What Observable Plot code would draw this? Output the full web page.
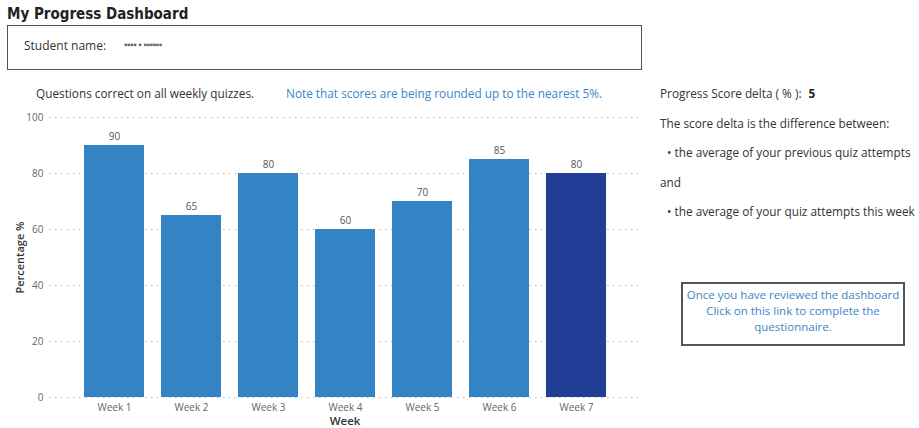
<!DOCTYPE html>
<html>
<head>
<meta charset="utf-8">
<script src="https://cdn.jsdelivr.net/npm/d3@7"></script>
<script src="https://cdn.jsdelivr.net/npm/@observablehq/plot@0.6"></script>
<style>
  html, body { margin: 0; padding: 0; background: #fff; }
  body { width: 919px; height: 428px; position: relative; overflow: hidden; font-family: "Open Sans", "Noto Sans", sans-serif; color: #333; }
  .abs { position: absolute; white-space: nowrap; }
  #title { left: 7px; top: 5px; font-family: "DejaVu Sans Condensed", "Roboto", sans-serif; font-weight: bold; font-size: 15px; line-height: 18px; color: #222; }
  #namebox { left: 7px; top: 25px; width: 633px; height: 43px; border: 1px solid #555; }
  #namelabel { left: 24px; top: 37px; font-size: 12px; color: #333; }
  #nameval { left: 124px; top: 37px; font-size: 10px; color: #667; letter-spacing: -0.5px; }
  #sub1 { left: 36px; top: 85px; font-size: 11.8px; color: #333; }
  #sub2 { left: 286px; top: 85px; font-size: 11.8px; color: #3A86C8; }
  #chart { left: 0; top: 105px; }
  #delta { left: 660px; top: 85px; }
  #delta b { color: #222; margin-left: 4px; }
  .rt { font-size: 11.8px; color: #333; }
  #linkbox { left: 681px; top: 282px; width: 220px; height: 57px; border: 2px solid #555; text-align: center; font-size: 11.5px; color: #3A86C8; line-height: 16px; padding-top: 3px; box-sizing: content-box; }
  #chart svg g[aria-label="y-axis label"] text, #chart svg g[aria-label="x-axis label"] text { font-weight: 600; font-size: 11px; fill: #333; }
  #chart svg g[aria-label="x-axis label"] text { font-size: 11.5px; }
</style>
</head>
<body>
<div id="title" class="abs">My Progress Dashboard</div>
<div id="namebox" class="abs"></div>
<div id="namelabel" class="abs">Student name:</div>
<div id="nameval" class="abs">▪▪▪▪ ▪ ▪▪▪▪▪▪</div>
<div id="sub1" class="abs">Questions correct on all weekly quizzes.</div>
<div id="sub2" class="abs">Note that scores are being rounded up to the nearest 5%.</div>
<div id="chart" class="abs"></div>
<div id="delta" class="abs rt">Progress Score delta ( % ): <b>5</b></div>
<div class="abs rt" style="left:660px; top:115px;">The score delta is the difference between:</div>
<div class="abs rt" style="left:667px; top:144px;">• the average of your previous quiz attempts</div>
<div class="abs rt" style="left:660px; top:174px;">and</div>
<div class="abs rt" style="left:667px; top:203px;">• the average of your quiz attempts this week</div>
<div id="linkbox" class="abs">Once you have reviewed the dashboard<br>Click on this link to complete the<br>questionnaire.</div>
<script>
const weeks = ["Week 1", "Week 2", "Week 3", "Week 4", "Week 5", "Week 6", "Week 7"];
const scores = [90, 65, 80, 60, 70, 85, 80];
const currentWeek = "Week 7";
const yTicks = [0, 20, 40, 60, 80, 100];

const data = weeks.map((w, i) => ({week: w, value: scores[i], status: w === currentWeek ? "current" : "previous"}));

const chart = Plot.plot({
  width: 650,
  height: 323,
  marginLeft: 49,
  marginRight: 10,
  marginTop: 12,
  marginBottom: 31,
  style: {fontFamily: "'Open Sans', 'Noto Sans', sans-serif", fontSize: "10px", color: "#666", background: "transparent"},
  x: {domain: weeks, paddingInner: 0.224, paddingOuter: 0.43, label: null},
  y: {domain: [0, 100], label: null},
  color: {domain: ["previous", "current"], range: ["#3483C5", "#233E97"]},
  marks: [
    Plot.gridY(yTicks, {stroke: "#bbb", strokeOpacity: 1, strokeDasharray: "1.5,4.5"}),
    Plot.barY(data, {x: "week", y: "value", fill: "status"}),
    Plot.text(data, {x: "week", y: "value", text: d => String(d.value), dy: -9, fill: "#555", fontSize: 10}),
    Plot.axisY(yTicks, {tickSize: 0, tickPadding: 6, fill: "#666", label: "Percentage %", labelAnchor: "center", labelOffset: 33, labelArrow: "none"}),
    Plot.axisX({tickSize: 0, tickPadding: 6, fill: "#666", label: "Week", labelAnchor: "center", labelOffset: 27, labelArrow: "none"})
  ]
});
document.getElementById("chart").appendChild(chart);
</script>
</body>
</html>
